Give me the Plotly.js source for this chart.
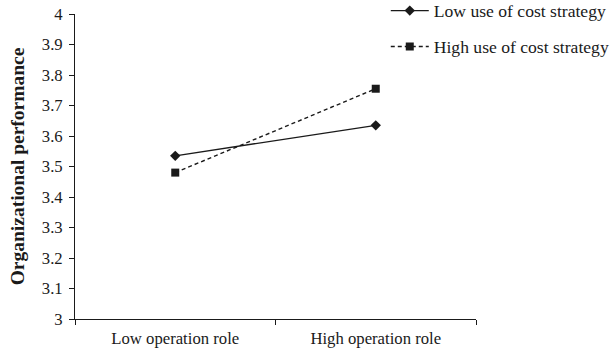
<!DOCTYPE html>
<html><head><meta charset="utf-8">
<script src="https://cdn.plot.ly/plotly-3.0.1.min.js"></script>
<style>html,body{margin:0;padding:0;background:#fff;}</style>
</head><body>
<div id="chart" style="width:613px;height:353px;"></div>
<script>
const categories = ["Low operation role", "High operation role"];
const lowCost = [3.535, 3.635];
const highCost = [3.48, 3.755];
const seriesNames = ["Low use of cost strategy", "High use of cost strategy"];
const yTicks = [3, 3.1, 3.2, 3.3, 3.4, 3.5, 3.6, 3.7, 3.8, 3.9, 4];
const yTickText = ["3", "3.1", "3.2", "3.3", "3.4", "3.5", "3.6", "3.7", "3.8", "3.9", "4"];
const yTitle = "Organizational performance";

const fam = "Liberation Serif, Times New Roman, serif";
const ink = "#1a1a1a";
const traces = [
  {x: categories, y: lowCost, name: seriesNames[0], type: "scatter", mode: "lines+markers",
   line: {color: ink, width: 1.4}, marker: {symbol: "diamond", size: 8, color: ink},
   legendgroup: "a"},
  {x: categories, y: highCost, name: seriesNames[1], type: "scatter", mode: "lines+markers",
   line: {color: ink, width: 1.4, dash: "4px,3px"}, marker: {symbol: "square", size: 8, color: ink},
   legendgroup: "b"}
];
const layout = {
  width: 613, height: 353,
  margin: {l: 75, r: 137, t: 14, b: 33.5, autoexpand: false},
  paper_bgcolor: "#fff", plot_bgcolor: "#fff",
  font: {family: fam, size: 16.7, color: ink},
  showlegend: true,
  legend: {x: 0.775, xanchor: "left", y: 1.07, yanchor: "top", font: {family: fam, size: 17.6, color: ink},
           itemwidth: 38, tracegroupgap: 10, traceorder: "grouped", bgcolor: "rgba(0,0,0,0)"},
  xaxis: {type: "category", range: [-0.5, 1.5], showgrid: false, zeroline: false,
          showline: true, linecolor: ink, linewidth: 1, ticks: "outside", tickson: "boundaries",
          ticklen: 5, tickcolor: ink, ticklabelstandoff: 4, tickfont: {family: fam, size: 16.7, color: ink}},
  yaxis: {range: [3, 4], tickvals: yTicks, ticktext: yTickText, showgrid: false, zeroline: false,
          showline: true, linecolor: ink, linewidth: 1, ticks: "outside", ticklen: 5, tickcolor: ink,
          ticklabelstandoff: 3,
          tickfont: {family: fam, size: 16.7, color: ink}},
  annotations: [{text: "<b>" + yTitle + "</b>", xref: "paper", yref: "paper", x: -0.1425, y: 0.5,
                 xanchor: "center", yanchor: "middle", textangle: -90, showarrow: false,
                 font: {family: fam, size: 19.5, color: ink}}]
};
Plotly.newPlot("chart", traces, layout, {displayModeBar: false, staticPlot: true});
</script>
</body></html>
